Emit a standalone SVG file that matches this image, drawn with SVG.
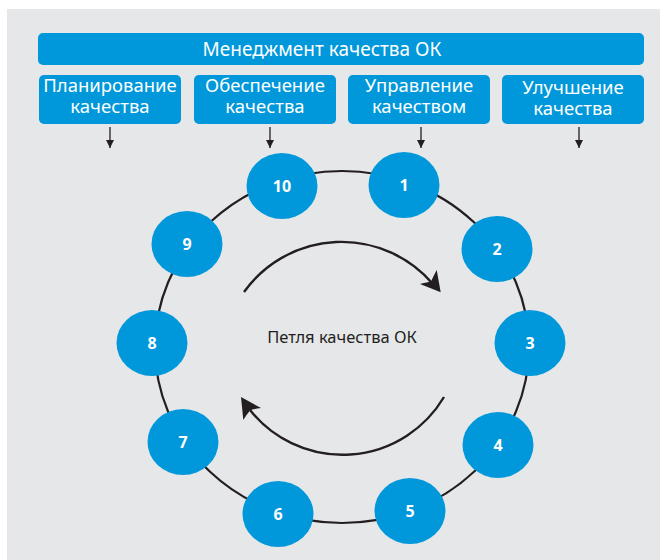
<svg xmlns="http://www.w3.org/2000/svg" width="660" height="560" viewBox="0 0 660 560">
<defs>
<style>
.bar{fill:#0098DA;}
.hdr{font-family:"Noto Sans","Open Sans",sans-serif;font-size:19px;fill:#FFFFFF;text-anchor:middle;}
.sub{font-family:"Noto Sans","Open Sans",sans-serif;font-size:18.5px;fill:#FFFFFF;text-anchor:middle;}
.node{fill:#0098DA;}
.num{font-family:"Noto Sans","Open Sans",sans-serif;font-size:16px;font-weight:bold;fill:#FFFFFF;text-anchor:middle;}
.ring{fill:none;stroke:#231F20;stroke-width:2.2;}
.arc{fill:none;stroke:#231F20;stroke-width:2.4;}
.head{fill:#231F20;}
.small{stroke:#231F20;stroke-width:1.3;fill:none;}
.lbl{font-family:"Noto Sans","Open Sans",sans-serif;font-size:16.5px;fill:#231F20;text-anchor:middle;}
</style>
<marker id="sa" viewBox="0 0 8 8" refX="8" refY="4" markerWidth="8" markerHeight="8" markerUnits="userSpaceOnUse" orient="auto">
<path d="M0,0 L8,4 L0,8 Z" fill="#231F20"/>
</marker>
</defs>
<rect x="0" y="0" width="660" height="560" fill="#FFFFFF"/>
<rect x="7" y="9" width="653" height="551" fill="#E6E7E9"/>

<g id="top-bar">
<rect class="bar" x="38" y="33" width="606" height="32" rx="5"/>
<text class="hdr" x="322" y="56">Менеджмент качества ОК</text>
</g>
<g id="box-planning">
<rect class="bar" x="39" y="75" width="142" height="49" rx="5"/>
<text class="sub" x="110" y="92">Планирование</text>
<text class="sub" x="110" y="113">качества</text>
</g>
<g id="box-assurance">
<rect class="bar" x="194" y="75" width="142" height="49" rx="5"/>
<text class="sub" x="265" y="92">Обеспечение</text>
<text class="sub" x="265" y="113">качества</text>
</g>
<g id="box-control">
<rect class="bar" x="348" y="75" width="142" height="49" rx="5"/>
<text class="sub" x="419" y="92">Управление</text>
<text class="sub" x="419" y="113">качеством</text>
</g>
<g id="box-improvement">
<rect class="bar" x="502" y="75" width="142" height="49" rx="5"/>
<text class="sub" x="573" y="94">Улучшение</text>
<text class="sub" x="573" y="115">качества</text>
</g>

<g id="connectors">
<line class="small" x1="110" y1="127" x2="110" y2="148" marker-end="url(#sa)"/>
<line class="small" x1="270" y1="127" x2="270" y2="148" marker-end="url(#sa)"/>
<line class="small" x1="421" y1="127" x2="421" y2="148" marker-end="url(#sa)"/>
<line class="small" x1="579" y1="127" x2="579" y2="148" marker-end="url(#sa)"/>
<ellipse class="ring" cx="342" cy="347" rx="187" ry="176"/>
<path class="arc" d="M244,292 A120,120 0 0 1 432,283"/>
<path class="head" d="M440.7,292.3 L420,284 Q428,282 431,281.5 Q433,277 436.7,270 Z"/>
<path class="arc" d="M444,397 A118,118 0 0 1 250,410"/>
<path class="head" d="M241,397 L261,408 Q253,409 250,410.5 Q247,414 243.3,420 Z"/>
</g>

<g id="node-1"><ellipse class="node" cx="404" cy="185" rx="35.5" ry="33"/><text class="num" x="404" y="191">1</text></g>
<g id="node-2"><ellipse class="node" cx="497" cy="249" rx="35.5" ry="33"/><text class="num" x="497" y="255">2</text></g>
<g id="node-3"><ellipse class="node" cx="530" cy="343" rx="35.5" ry="33"/><text class="num" x="530" y="349">3</text></g>
<g id="node-4"><ellipse class="node" cx="498" cy="445" rx="35.5" ry="33"/><text class="num" x="498" y="451">4</text></g>
<g id="node-5"><ellipse class="node" cx="410" cy="511" rx="35.5" ry="33"/><text class="num" x="410" y="517">5</text></g>
<g id="node-6"><ellipse class="node" cx="278" cy="514" rx="35.5" ry="33"/><text class="num" x="278" y="520">6</text></g>
<g id="node-7"><ellipse class="node" cx="183" cy="442" rx="35.5" ry="33"/><text class="num" x="183" y="448">7</text></g>
<g id="node-8"><ellipse class="node" cx="152" cy="343" rx="35.5" ry="33"/><text class="num" x="152" y="349">8</text></g>
<g id="node-9"><ellipse class="node" cx="187" cy="244" rx="35.5" ry="33"/><text class="num" x="187" y="250">9</text></g>
<g id="node-10"><ellipse class="node" cx="282" cy="186" rx="35.5" ry="33"/><text class="num" x="282" y="192">10</text></g>

<g id="center-label">
<text class="lbl" x="342" y="343">Петля качества ОК</text>
</g>
</svg>
